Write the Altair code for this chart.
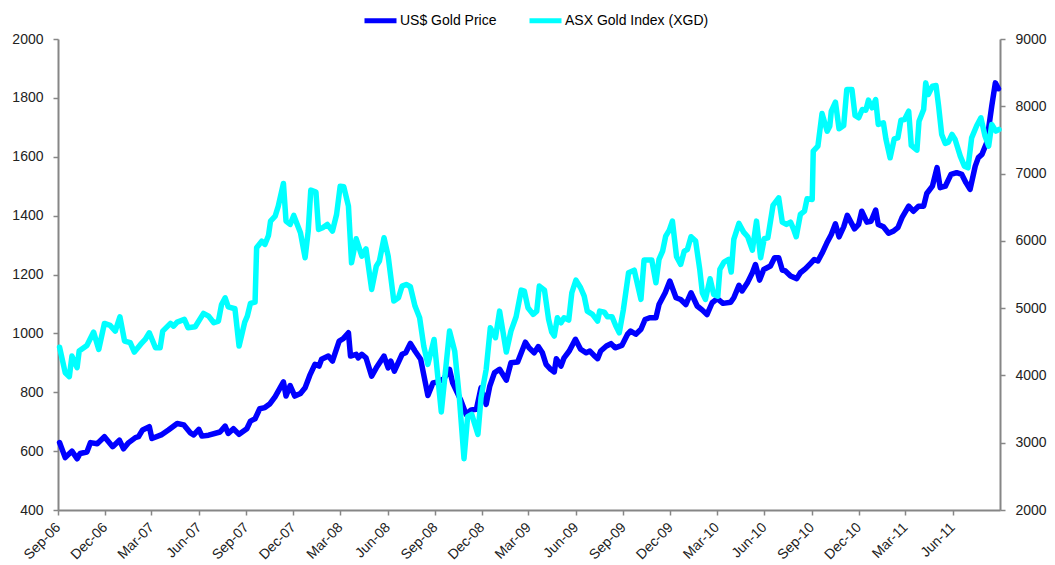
import altair as alt
import pandas as pd

START = "2006-09-01"

# ---- US$ Gold Price (left axis) : days after 1 Sep 2006, price ----
gold_days = [3, 14, 27, 37, 43, 56, 63, 76, 90, 106, 119, 127, 137, 150, 156, 164, 177, 182, 200, 214,
             231, 244, 256, 263, 273, 279, 292,
             314, 324, 330, 340, 351, 366, 373, 382, 391, 401, 411, 421, 437, 442, 450, 459, 470, 479, 488, 498,
             506, 511, 524, 532, 545, 553, 563, 567, 578, 582, 589, 597,
             608, 617, 632, 640, 645, 652, 667, 674, 683, 692, 703, 717, 727, 736, 748, 759, 765, 780, 791, 801,
             811, 820, 830, 837, 846, 856, 869, 878, 891, 906,
             913, 923, 931, 939, 946, 955, 962, 966, 975, 981, 991, 1003, 1013, 1024, 1031, 1039, 1046, 1052, 1063, 1072,
             1080, 1093, 1104, 1110, 1120, 1130, 1138, 1147, 1159, 1165, 1177, 1186, 1198, 1207, 1217,
             1227, 1239, 1249, 1258, 1268, 1278, 1289, 1304, 1310, 1320, 1326, 1337, 1346, 1352, 1360, 1368, 1381, 1389, 1397, 1404,
             1410, 1420, 1432, 1439, 1449, 1459, 1466, 1473, 1481, 1490, 1499, 1507, 1514, 1523, 1530,
             1544, 1552, 1558, 1568, 1576, 1585, 1590, 1600, 1610, 1620, 1628, 1636, 1649, 1658, 1668, 1678, 1684, 1695, 1704, 1710,
             1720, 1731, 1742, 1752, 1760, 1768, 1778, 1784, 1791, 1800, 1810, 1817, 1823]
gold_price = [629, 578, 600, 574, 592, 597, 629, 625, 649, 615, 637, 608, 629, 646, 649, 672, 683, 643, 655, 672,
              694, 689, 663, 655, 674, 651, 654,
              665, 685, 660, 676, 657, 676, 702, 710, 744, 748, 761, 785, 835, 787, 823, 787, 796, 815, 857, 895,
              889, 912, 923, 906, 974, 982, 1002, 923, 929, 917, 929, 917,
              855, 883, 923, 883, 906, 872, 929, 934, 966, 940, 912, 789, 832, 835, 846, 878, 832, 776, 725, 740,
              742, 815, 759, 821, 866, 878, 841, 900, 903, 970,
              951, 934, 955, 934, 895, 878, 869, 914, 889, 917, 940, 980, 946, 934, 940, 925, 914, 940, 957, 965,
              951, 959, 997, 1008, 997, 1014, 1047, 1053, 1053, 1098, 1138, 1178, 1121, 1115, 1098,
              1138, 1093, 1079, 1064, 1104, 1118, 1102, 1106, 1121, 1163, 1144, 1174, 1206, 1234, 1181, 1217, 1229, 1257, 1257, 1215,
              1212, 1195, 1186, 1206, 1220, 1238, 1251, 1246, 1272, 1306, 1336, 1372, 1328, 1362, 1401,
              1355, 1370, 1415, 1378, 1381, 1419, 1370, 1362, 1340, 1348, 1359, 1393, 1432, 1415, 1432, 1432, 1475, 1500, 1563, 1495,
              1500, 1540, 1546, 1540, 1512, 1489, 1568, 1597, 1608, 1647, 1772, 1851, 1831]

# ---- ASX Gold Index (XGD) (right axis) ----
xgd_days = [3, 14, 22, 27, 37, 41, 56, 69, 79, 90, 101, 111, 120, 129, 140, 148, 160, 169, 177, 189,
            198, 203, 218, 224, 231, 245, 252, 266, 282, 292, 302,
            311, 317, 324, 330, 343, 351, 362, 367, 373, 382, 385, 395, 401, 408, 412, 421, 427, 437, 442, 450,
            457, 470, 479, 485, 490, 500, 505, 513, 522, 532, 540, 547, 554, 563, 569, 578, 589, 597, 608,
            617, 623, 632, 640, 651, 660, 667, 675, 683, 692, 701, 709, 717, 729, 743, 759, 769, 778, 787, 794,
            802, 814, 820, 830, 838, 848, 856, 869, 878, 888, 898, 904, 911,
            921, 928, 933, 943, 951, 957, 962, 968, 975, 981, 990, 996, 1004, 1013, 1020, 1026, 1036, 1046, 1050, 1059,
            1065, 1074, 1081, 1088, 1096, 1106, 1117, 1130, 1136, 1151, 1159, 1165, 1172, 1178, 1185, 1191, 1199, 1207, 1214,
            1220, 1227, 1236, 1244, 1249, 1255, 1264, 1271, 1279, 1283, 1291, 1300, 1305, 1310, 1320, 1329, 1337, 1346, 1354, 1362,
            1369, 1376, 1386, 1397, 1404, 1412, 1420, 1426, 1431, 1439, 1447, 1452, 1462, 1464, 1473, 1481, 1491, 1496, 1499, 1507,
            1514, 1523, 1529,
            1539, 1545, 1552, 1559, 1566, 1571, 1578, 1585, 1590, 1600, 1605, 1613, 1621, 1628, 1634, 1641, 1649, 1654, 1665, 1669,
            1678, 1682, 1687, 1695, 1702, 1707, 1713, 1720, 1726, 1733, 1739, 1749, 1757, 1764, 1771, 1781, 1789, 1797, 1804, 1810,
            1818, 1824]
xgd_index = [4420, 4040, 3981, 4288, 4115, 4362, 4446, 4644, 4387, 4773, 4743, 4659, 4872, 4511, 4486, 4347, 4461, 4535, 4634, 4412,
             4412, 4659, 4773, 4733, 4793, 4832, 4709, 4724, 4922, 4882, 4783,
             4808, 5055, 5154, 5020, 4991, 4436, 4793, 4882, 5070, 5090, 5897, 5996, 5947, 6080, 6293, 6368, 6516, 6853, 6293, 6244,
             6378, 6120, 5749, 6145, 6754, 6724, 6170, 6194, 6244, 6145, 6392, 6813, 6803, 6516, 5674, 6031, 5773, 5882, 5278,
             5625, 5699, 6046, 5773, 5105, 5154, 5328, 5352, 5318, 5031, 4857, 4436, 4164, 4535, 3456, 4659, 4362, 3669, 2763, 3387,
             3421, 3124, 3669, 4090, 4709, 4560, 4956, 4347, 4659, 4872, 5268, 5253, 5006,
             4907, 4956, 5328, 5268, 4833, 4644, 4585, 4857, 4783, 4857, 4823, 5229, 5417, 5303, 5179, 4956, 4907, 4808, 4956, 4941,
             4872, 4872, 4743, 4634, 4981, 5526, 5565, 5130, 5714, 5714, 5377, 5724, 5848, 6071, 6160, 6293, 5764, 5650, 5848,
             5872, 6061, 5996, 5575, 5229, 5130, 5437, 5204, 5179, 5575, 5684, 5724, 5536, 6021, 6259, 6130, 6061, 5862, 6293, 5749,
             6031, 6046, 6526, 6640, 6279, 6244, 6279, 6170, 6061, 6392, 6442, 6625, 6615, 7333, 7408, 7893, 7630, 7705, 7928, 8061,
             7665, 7715, 8249,
             8249, 7863, 7829, 7952, 7942, 8091, 7977, 8101, 7730, 7754, 7507, 7234, 7516, 7531, 7794, 7804, 7928, 7418, 7348, 7779,
             7952, 8348, 8175, 8299, 8309, 8002, 7581, 7447, 7467, 7581, 7507, 7259, 7110, 7086, 7531, 7715, 7829, 7556, 7408, 7730,
             7631, 7655]

series_names = ["US$ Gold Price", "ASX Gold Index (XGD)"]
series_colors = ["#0000FF", "#00FFFF"]
left_ticks = [400, 600, 800, 1000, 1200, 1400, 1600, 1800, 2000]
right_ticks = [2000, 3000, 4000, 5000, 6000, 7000, 8000, 9000]
quarter_starts = [(2006, 9), (2006, 12), (2007, 3), (2007, 6), (2007, 9), (2007, 12), (2008, 3), (2008, 6),
                  (2008, 9), (2008, 12), (2009, 3), (2009, 6), (2009, 9), (2009, 12), (2010, 3), (2010, 6),
                  (2010, 9), (2010, 12), (2011, 3), (2011, 6)]

assert len(gold_days) == len(gold_price)
assert len(xgd_days) == len(xgd_index)

start = pd.Timestamp(START)
gold_df = pd.DataFrame({"date": start + pd.to_timedelta(gold_days, unit="D"),
                        "value": gold_price, "series": series_names[0]})
xgd_df = pd.DataFrame({"date": start + pd.to_timedelta(xgd_days, unit="D"),
                       "value": xgd_index, "series": series_names[1]})

FONT = "Liberation Sans"

color = alt.Color(
    "series:N",
    scale=alt.Scale(domain=series_names, range=series_colors),
    legend=alt.Legend(
        title=None, orient="none", legendX=304, legendY=-37, direction="horizontal", columns=2,
        symbolType="stroke", symbolStrokeWidth=5, symbolSize=1024, labelFontSize=14, labelFont=FONT,
        labelColor="#000000", columnPadding=22, labelOffset=1, padding=0,
    ),
)

x = alt.X(
    "date:T",
    scale=alt.Scale(domain=[alt.DateTime(year=2006, month=9, date=1), alt.DateTime(year=2011, month=9, date=1)]),
    axis=alt.Axis(
        title=None, grid=False, format="%b-%y",
        values=[alt.DateTime(year=y, month=m, date=1) for y, m in quarter_starts],
        labelAngle=-45, labelAlign="right", labelBaseline="middle", labelPadding=10,
        tickSize=5, labelOverlap=False, labelFlush=False,
    ),
)

line_style = dict(strokeWidth=5.5, strokeJoin="round", strokeCap="round")

gold_line = alt.Chart(gold_df).mark_line(**line_style).encode(
    x=x,
    y=alt.Y("value:Q", scale=alt.Scale(domain=[400, 2000], nice=False, zero=False),
            axis=alt.Axis(title=None, grid=False, orient="left", values=left_ticks, format="d",
                          tickSize=5, labelPadding=10)),
    color=color,
)

xgd_line = alt.Chart(xgd_df).mark_line(**line_style).encode(
    x=x,
    y=alt.Y("value:Q", scale=alt.Scale(domain=[2000, 9000], nice=False, zero=False),
            axis=alt.Axis(title=None, grid=False, orient="right", values=right_ticks, format="d",
                          tickSize=5, labelPadding=10)),
    color=color,
)

chart = (
    alt.layer(gold_line, xgd_line)
    .resolve_scale(y="independent")
    .properties(
        width=942, height=471,
        autosize=alt.AutoSizeParams(type="none"),
        padding={"left": 50, "top": 31, "right": 47, "bottom": 55},
        background="white",
    )
    .configure_view(stroke=None)
    .configure_axis(
        domainColor="#868686", domainWidth=2, tickColor="#868686", tickWidth=1.5,
        labelFont=FONT, labelFontSize=14, labelColor="#222222",
    )
)

chart.save("out.html", embed_options={"renderer": "svg", "actions": False})
